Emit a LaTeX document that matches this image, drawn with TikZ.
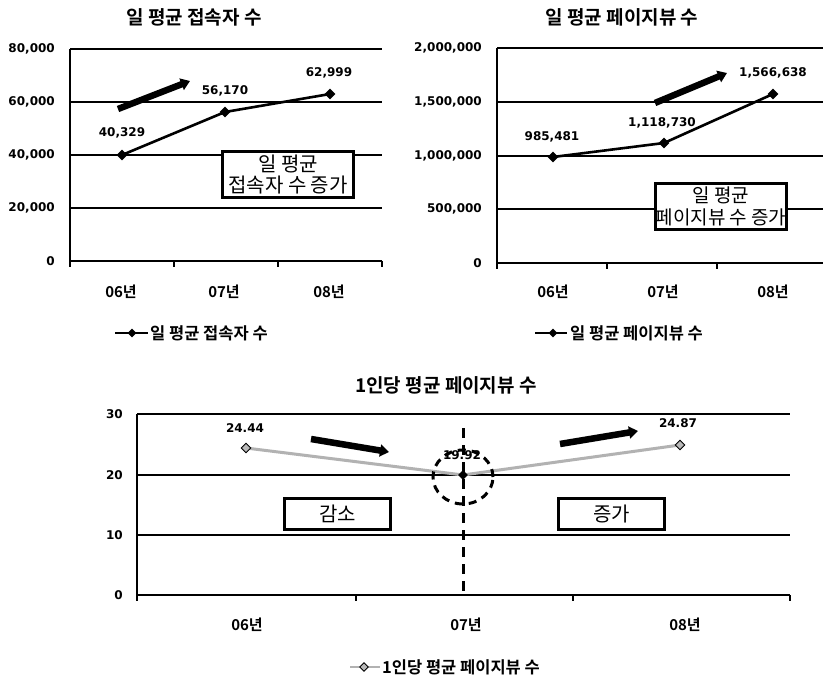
\documentclass[tikz,border=0pt]{standalone}
\usepackage{fontspec}
\setmainfont{Noto Sans CJK KR}[BoldFont={Noto Sans CJK KR Bold}]
\newfontfamily\numfont{DejaVu Sans}
\usetikzlibrary{shapes.geometric,arrows.meta}

\begin{document}
\begin{tikzpicture}[
    x=1pt, y=-1pt,
    title/.style={
        font=\fontsize{19}{21}\selectfont\bfseries
    },
    ylabel/.style={
        anchor=east,
        inner sep=1pt,
        font=\numfont\fontsize{12}{14}\selectfont\bfseries
    },
    value/.style={
        inner sep=1pt,
        font=\numfont\fontsize{12}{14}\selectfont\bfseries
    },
    year/.style={
        font=\fontsize{15}{16}\selectfont\bfseries
    },
    gridline/.style={line width=1.3pt},
    series/.style={line width=2.6pt},
    point/.style={
        diamond,
        fill=black,
        inner sep=0pt,
        minimum size=11pt
    },
    graypoint/.style={
        diamond,
        draw=black,
        fill=gray!55,
        line width=0.9pt,
        inner sep=0pt,
        minimum size=10pt
    },
    trend/.style={
        line width=6.5pt,
        -{Triangle[length=9pt,width=12pt]}
    },
    note/.style={
        rectangle,
        draw=black,
        line width=3pt,
        fill=white,
        align=center,
        inner sep=0pt,
        font=\fontsize{20}{21.5}\selectfont
    },
    legend/.style={
        anchor=west,
        inner sep=1pt,
        font=\fontsize{16.5}{18}\selectfont\bfseries
    }
]
\useasboundingbox[fill=white] (0,0) rectangle (823,679);

% chart 1
\node[title] (title-a) at (194,17) {일 평균 접속자 수};
\foreach \y/\t in {49/{80,000},102/{60,000},155/{40,000},208/{20,000},261/0}{
    \draw[gridline] (70,\y) -- (382,\y);
    \node[ylabel] (ya-\y) at (56,\y) {\t};
}
\draw[gridline] (70,49) -- (70,261);
\foreach \x in {70,174,278,382}
    \draw[gridline] (\x,261) -- (\x,267);
\node[year] (xa-1) at (121,292) {06년};
\node[year] (xa-2) at (224,292) {07년};
\node[year] (xa-3) at (329,292) {08년};

\coordinate (a06) at (122,155);
\coordinate (a07) at (225,112);
\coordinate (a08) at (330,94);
\draw[series] (a06) -- (a07) -- (a08);
\node[point] (pa-1) at (a06) {};
\node[point] (pa-2) at (a07) {};
\node[point] (pa-3) at (a08) {};
\node[value] (va-1) at (122,133) {40,329};
\node[value] (va-2) at (225,91) {56,170};
\node[value] (va-3) at (329,73) {62,999};

\coordinate (upa-s) at (118,109);
\coordinate (upa-e) at (190,81);
\draw[trend] (upa-s) -- (upa-e);
\node[note, minimum width=131pt, minimum height=46pt] (note-a) at (288,174.5) {일 평균\\접속자 수 증가};

\coordinate (lga-s) at (115,333);
\coordinate (lga-e) at (148,333);
\draw[line width=2.2pt] (lga-s) -- (lga-e);
\node[point, minimum size=9pt] (lga-p) at (132,333) {};
\node[legend] (lga) at (149,333) {일 평균 접속자 수};

% chart 2
\node[title] (title-b) at (622,17) {일 평균 페이지뷰 수};
\foreach \y/\t in {48/{2,000,000},102/{1,500,000},156/{1,000,000},209/{500,000},263/0}{
    \draw[gridline] (497,\y) -- (823,\y);
    \node[ylabel] (yb-\y) at (483,\y) {\t};
}
\draw[gridline] (497,48) -- (497,263);
\foreach \x in {497,607,717}
    \draw[gridline] (\x,263) -- (\x,269);
\node[year] (xb-1) at (553,292) {06년};
\node[year] (xb-2) at (663,292) {07년};
\node[year] (xb-3) at (773,292) {08년};

\coordinate (b06) at (553,157);
\coordinate (b07) at (664,143);
\coordinate (b08) at (773,94);
\draw[series] (b06) -- (b07) -- (b08);
\node[point] (pb-1) at (b06) {};
\node[point] (pb-2) at (b07) {};
\node[point] (pb-3) at (b08) {};
\node[value] (vb-1) at (552,137) {985,481};
\node[value] (vb-2) at (662,123) {1,118,730};
\node[value] (vb-3) at (773,73) {1,566,638};

\coordinate (upb-s) at (655,103);
\coordinate (upb-e) at (727,73);
\draw[trend] (upb-s) -- (upb-e);
\node[note, minimum width=131pt, minimum height=46pt, font=\fontsize{19}{21.5}\selectfont] (note-b) at (721,206.5) {일 평균\\페이지뷰 수 증가};

\coordinate (lgb-s) at (535,333);
\coordinate (lgb-e) at (567,333);
\draw[line width=2.2pt] (lgb-s) -- (lgb-e);
\node[point, minimum size=9pt] (lgb-p) at (553,333) {};
\node[legend] (lgb) at (569,333) {일 평균 페이지뷰 수};

% chart 3
\node[title] (title-c) at (446,385) {1인당 평균 페이지뷰 수};
\foreach \y/\t in {414/30,475/20,535/10,595/0}{
    \draw[gridline] (137,\y) -- (790,\y);
    \node[ylabel] (yc-\y) at (124,\y) {\t};
}
\draw[gridline] (137,414) -- (137,595);
\foreach \x in {137,356,573,790}
    \draw[gridline] (\x,595) -- (\x,601);
\node[year] (xc-1) at (247,625) {06년};
\node[year] (xc-2) at (466,625) {07년};
\node[year] (xc-3) at (685,625) {08년};

\coordinate (c06) at (246,448);
\coordinate (c07) at (463,475);
\coordinate (c08) at (680,445);
\draw[series, gray!60, line width=3pt] (c06) -- (c07) -- (c08);
\node[graypoint] (pc-1) at (c06) {};
\node[point, minimum size=10pt] (pc-2) at (c07) {};
\node[graypoint] (pc-3) at (c08) {};
\node[value] (vc-1) at (245,428) {24.44};
\node[value] (vc-2) at (462,455) {19.92};
\node[value] (vc-3) at (678,423) {24.87};

\coordinate (mark-top) at (463,428);
\coordinate (mark-bot) at (463,595);
\draw[line width=3pt, dash pattern=on 10pt off 7pt] (mark-top) -- (mark-bot);
\node[ellipse, draw=black, line width=3pt, dash pattern=on 8pt off 6pt,
      minimum width=60pt, minimum height=54pt, inner sep=0pt] (ring) at (463,477) {};

\coordinate (down-s) at (311,439);
\coordinate (down-e) at (389,452);
\draw[trend] (down-s) -- (down-e);
\coordinate (upc-s) at (560,444);
\coordinate (upc-e) at (638,431);
\draw[trend] (upc-s) -- (upc-e);

\node[note, minimum width=106pt, minimum height=31pt] (note-down) at (337.5,514) {감소};
\node[note, minimum width=106pt, minimum height=31pt] (note-up) at (611.5,513.5) {증가};

\coordinate (lgc-s) at (350,667);
\coordinate (lgc-e) at (380,667);
\draw[gray!60, line width=2.4pt] (lgc-s) -- (lgc-e);
\node[graypoint, minimum size=9pt] (lgc-p) at (364,667) {};
\node[legend] (lgc) at (381,667) {1인당 평균 페이지뷰 수};

\end{tikzpicture}
\end{document}
